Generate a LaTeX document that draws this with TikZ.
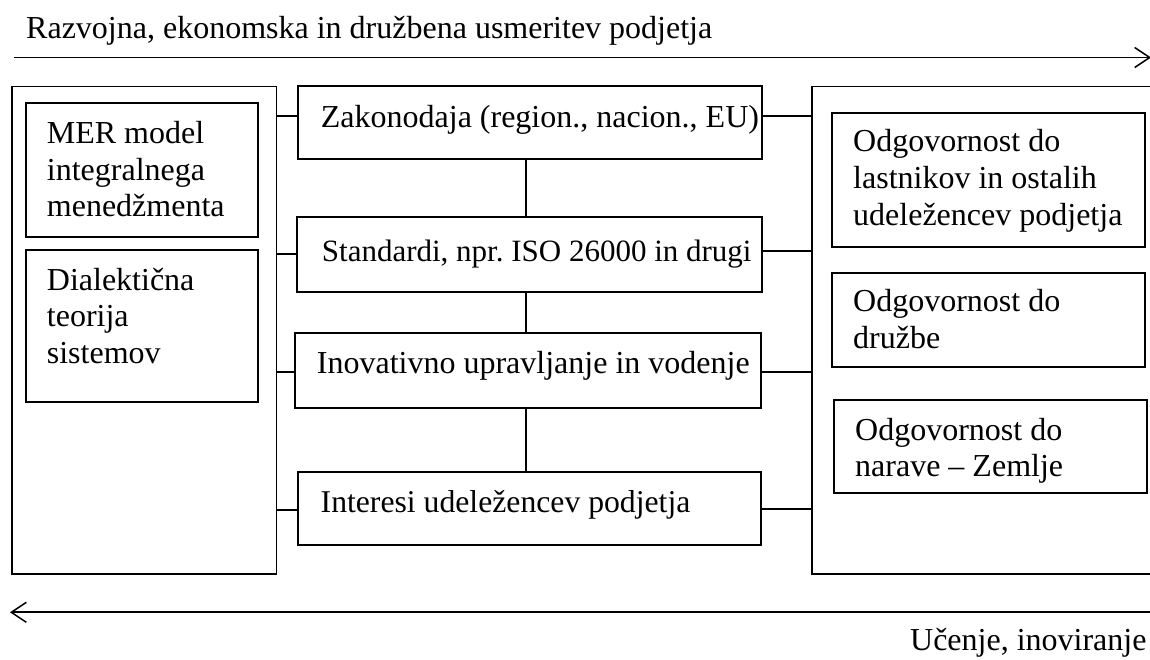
\documentclass[tikz,border=0pt]{standalone}
\usepackage{fontspec}
\setmainfont{Liberation Serif}
\usetikzlibrary{arrows.meta}
\frenchspacing
\begin{document}
\begin{tikzpicture}[x=1pt,y=-1pt,
  frame/.style={draw, line width=1.6pt, inner sep=0pt},
  box/.style={draw, line width=1.8pt, inner sep=0pt},
  txt/.style={inner sep=0pt, align=left, font=\fontsize{32}{36.7}\selectfont},
  link/.style={line width=1.7pt},
  flow/.style={line width=1.8pt, -{Straight Barb[length=15pt, width=20pt, line width=1.5pt]}}]
\useasboundingbox (0,0) rectangle (1150,660);
\clip (0,0) rectangle (1150,660);

% direction arrows
\coordinate (ts) at (14,57.5);
\coordinate (te) at (1151,57.5);
\coordinate (bs) at (1152,612.3);
\coordinate (be) at (10,612.3);
\draw[flow] (ts) -- (te);
\draw[flow] (bs) -- (be);
\node[txt, anchor=base west] (title) at (26,39) {Razvojna, ekonomska in družbena usmeritev podjetja};
\node[txt, anchor=base east] (learn) at (1146.7,650) {Učenje, inoviranje};

% left frame
\node[frame, minimum width=264.5pt, minimum height=487.3pt] (lframe) at (144.25,330.35) {};
\node[box, minimum width=232pt, minimum height=134pt] (mer) at (142,169.7) {};
\node[box, minimum width=232pt, minimum height=151.7pt] (dial) at (142,325.85) {};
\node[txt, anchor=north west] (mer-t) at (46.7,117.6) {\strut MER model\\integralnega\\menedžmenta};
\node[txt, anchor=north west] (dial-t) at (46.7,264.3) {\strut Dialektična\\teorija\\sistemov};

% central column
\node[box, minimum width=464pt, minimum height=73pt] (zak) at (530,122.5) {};
\node[box, minimum width=465pt, minimum height=75pt] (std) at (529.5,254.2) {};
\node[box, minimum width=466pt, minimum height=75pt] (inov) at (528,370.8) {};
\node[box, minimum width=463pt, minimum height=73.3pt] (int) at (529.5,508.35) {};
\node[txt, anchor=base west] (zak-t) at (320.7,127.7) {Zakonodaja (region., nacion., EU)};
\node[txt, anchor=base west, font=\fontsize{31}{36.7}\selectfont] (std-t) at (321.7,261.7) {Standardi, npr. ISO 26000 in drugi};
\node[txt, anchor=base west] (inov-t) at (316.7,373.3) {Inovativno upravljanje in vodenje};
\node[txt, anchor=base west, font=\fontsize{31.7}{36.7}\selectfont] (int-t) at (320.5,512.7) {Interesi udeležencev podjetja};

% right frame
\node[frame, minimum width=358pt, minimum height=487.3pt] (rframe) at (991,330.35) {};
\node[box, minimum width=313pt, minimum height=134pt] (r1) at (988.5,179.7) {};
\node[box, minimum width=313pt, minimum height=94pt] (r2) at (988.5,319.7) {};
\node[box, minimum width=313pt, minimum height=93.3pt] (r3) at (990.5,446.65) {};
\node[txt, anchor=north west] (r1-t) at (853,126) {\strut Odgovornost do\\lastnikov in ostalih\\udeležencev podjetja};
\node[txt, anchor=north west] (r2-t) at (853,286) {\strut Odgovornost do\\družbe};
\node[txt, anchor=north west] (r3-t) at (855,414.3) {\strut Odgovornost do\\narave -- Zemlje};

% vertical chain
\coordinate (cx) at (526,0);
\draw[link, line width=2.2pt] (cx |- zak.south) -- (cx |- std.north);
\draw[link, line width=2.2pt] (cx |- std.south) -- (cx |- inov.north);
\draw[link, line width=2pt] (cx |- inov.south) -- (cx |- int.north);

% links to the left frame
\draw[link] (lframe.east |- 0,116) -- (zak.west |- 0,116);
\draw[link] (lframe.east |- 0,254) -- (std.west |- 0,254);
\draw[link, line width=2.8pt] (lframe.east |- 0,372) -- (inov.west |- 0,372);
\draw[link, line width=1.3pt] (lframe.east |- 0,510) -- (int.west |- 0,510);

% links to the right frame
\draw[link] (zak.east |- 0,116) -- (rframe.west |- 0,116);
\draw[link] (std.east |- 0,251) -- (rframe.west |- 0,251);
\draw[link] (inov.east |- 0,372) -- (rframe.west |- 0,372);
\draw[link] (int.east |- 0,509) -- (rframe.west |- 0,509);
\end{tikzpicture}
\end{document}
